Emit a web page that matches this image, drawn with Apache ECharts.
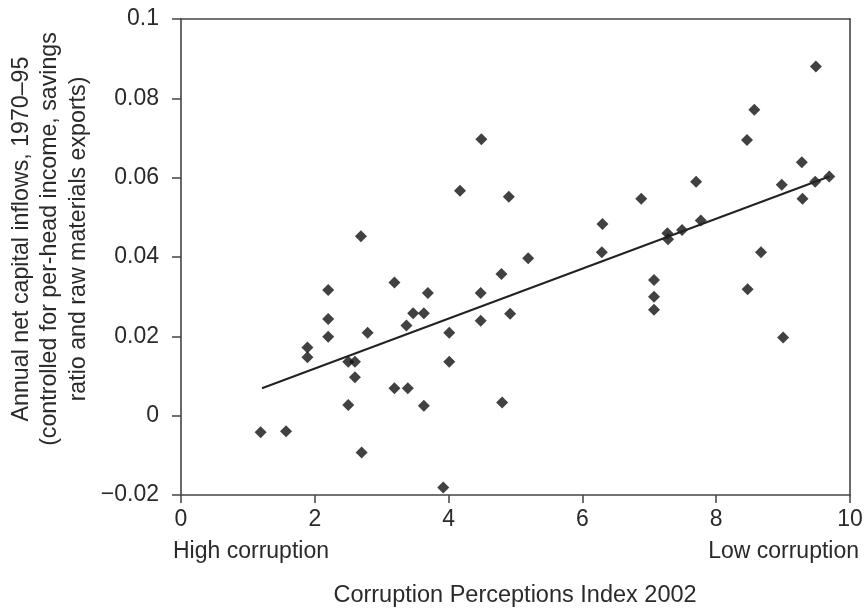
<!DOCTYPE html>
<html>
<head>
<meta charset="utf-8">
<script src="https://cdn.jsdelivr.net/npm/echarts@6/dist/echarts.min.js"></script>
<style>
	html, body { margin: 0; padding: 0; background: #fff; }
	#chart { width: 866px; height: 615px; }
</style>
</head>
<body>
<div id="chart"></div>
<script>
// Corruption Perceptions Index 2002 (x) vs annual net capital inflows (y)
var cpi = [1.19, 1.57, 1.89, 1.89, 2.20, 2.20, 2.20, 2.50, 2.60, 2.60,
	2.50, 2.69, 2.70, 2.79, 3.19, 3.19, 3.39, 3.37, 3.47, 3.63,
	3.63, 3.69, 3.92, 4.01, 4.01, 4.17, 4.49, 4.48, 4.48, 4.79,
	4.80, 4.90, 4.92, 5.19, 6.29, 6.30, 6.88, 7.07, 7.07, 7.07,
	7.27, 7.28, 7.49, 7.70, 7.77, 8.46, 8.47, 8.57, 8.67, 8.98,
	9.00, 9.28, 9.29, 9.48, 9.49, 9.69];
var inflows = [-0.0042, -0.0039, 0.0172, 0.0147, 0.0317, 0.0244, 0.0199, 0.0136, 0.0136, 0.0097,
	0.0027, 0.0452, -0.0093, 0.0209, 0.0336, 0.0069, 0.0069, 0.0227, 0.0258, 0.0258,
	0.0025, 0.0309, -0.0181, 0.0209, 0.0136, 0.0567, 0.0697, 0.0309, 0.0239, 0.0357,
	0.0033, 0.0552, 0.0257, 0.0397, 0.0412, 0.0483, 0.0547, 0.0342, 0.0300, 0.0267,
	0.0460, 0.0445, 0.0468, 0.0590, 0.0492, 0.0695, 0.0319, 0.0771, 0.0412, 0.0582,
	0.0197, 0.0639, 0.0547, 0.0590, 0.0880, 0.0603];
// fitted line end points
var fitX = [1.21, 9.69];
var fitY = [0.0069, 0.0603];

var yTitle = [
	'Annual net capital inflows, 1970\u201395',
	'(controlled for per-head income, savings',
	'ratio and raw materials exports)'
];

var font = 'Liberation Sans, Arial, sans-serif';
var textColor = '#2a2a2a';
var frameColor = '#444';

var myChart = echarts.init(document.getElementById('chart'));

var frameLine = { show: true, onZero: false, lineStyle: { color: frameColor, width: 1.6 } };

var option = {
	animation: false,
	grid: {
		left: 181,
		right: 16,
		top: 19,
		bottom: 120
	},
	xAxis: [
		{
			type: 'value',
			min: 0,
			max: 10,
			interval: 2,
			axisLine: frameLine,
			axisTick: { show: true, length: 8, lineStyle: { color: frameColor, width: 1.5 } },
			splitLine: { show: false },
			axisLabel: {
				fontSize: 23,
				fontFamily: font,
				color: textColor,
				margin: 13
			}
		},
		{
			type: 'value',
			position: 'top',
			min: 0,
			max: 10,
			axisLine: frameLine,
			axisTick: { show: false },
			axisLabel: { show: false },
			splitLine: { show: false }
		}
	],
	yAxis: [
		{
			type: 'value',
			min: -0.02,
			max: 0.1,
			interval: 0.02,
			axisLine: frameLine,
			axisTick: { show: true, length: 9, lineStyle: { color: frameColor, width: 1.5 } },
			splitLine: { show: false },
			axisLabel: {
				fontSize: 23,
				fontFamily: font,
				color: textColor,
				margin: 22,
				formatter: function (v) {
					var s = String(Math.round(v * 100) / 100);
					return s.replace('-', '\u2212');
				}
			}
		},
		{
			type: 'value',
			position: 'right',
			min: -0.02,
			max: 0.1,
			axisLine: frameLine,
			axisTick: { show: false },
			axisLabel: { show: false },
			splitLine: { show: false }
		}
	],
	series: [
		{
			type: 'scatter',
			symbol: 'diamond',
			symbolSize: 12,
			itemStyle: { color: '#111' },
			data: cpi.map(function (x, i) { return [x, inflows[i]]; })
		},
		{
			type: 'line',
			showSymbol: false,
			symbol: 'none',
			lineStyle: { color: '#222', width: 2 },
			data: fitX.map(function (x, i) { return [x, fitY[i]]; })
		}
	],
	graphic: [
		{
			type: 'text',
			left: 173,
			top: 540,
			style: { text: 'High corruption', fontSize: 23, fontFamily: font, fill: textColor }
		},
		{
			type: 'text',
			right: 7,
			top: 540,
			style: { text: 'Low corruption', fontSize: 23, fontFamily: font, fill: textColor }
		},
		{
			type: 'text',
			x: 515,
			y: 596,
			style: {
				text: 'Corruption Perceptions Index 2002',
				fontSize: 23.5, fontFamily: font, fill: textColor,
				align: 'center', verticalAlign: 'middle'
			}
		},
		{
			type: 'text',
			x: 50,
			y: 239,
			rotation: Math.PI / 2,
			style: {
				text: yTitle.join('\n'),
				fontSize: 23.2, fontFamily: font, fill: textColor,
				lineHeight: 28.5,
				align: 'center', verticalAlign: 'middle'
			}
		}
	]
};

myChart.setOption(option);
</script>
</body>
</html>
